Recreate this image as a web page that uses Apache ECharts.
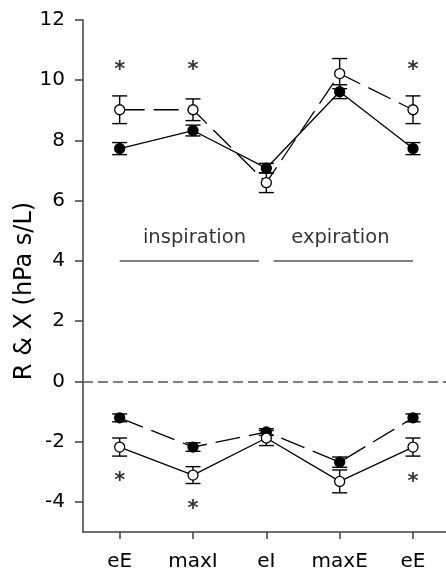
<!DOCTYPE html>
<html>
<head>
<meta charset="utf-8">
<script src="https://cdn.jsdelivr.net/npm/echarts@6/dist/echarts.min.js"></script>
<style>
html,body{margin:0;padding:0;background:#fff;}
#chart{width:446px;height:571px;}
</style>
</head>
<body>
<div id="chart"></div>
<script>
const categories = ['eE', 'maxI', 'eI', 'maxE', 'eE'];
const xPos = [0, 1, 2, 3, 4];
const yTicks = [-4, -2, 0, 2, 4, 6, 8, 10, 12];

// Resistance (upper group)
const R_open = [9.02, 9.02, 6.60, 10.22, 9.02];
const R_open_err = [0.46, 0.36, 0.33, 0.50, 0.46];
const R_filled = [7.73, 8.33, 7.08, 9.62, 7.73];
const R_filled_err = [0.20, 0.18, 0.16, 0.23, 0.20];

// Reactance (lower group)
const X_filled = [-1.21, -2.18, -1.68, -2.68, -1.21];
const X_filled_err = [0.13, 0.14, 0.11, 0.17, 0.13];
const X_open = [-2.18, -3.11, -1.88, -3.32, -2.18];
const X_open_err = [0.30, 0.28, 0.25, 0.38, 0.30];

// significance asterisks
const starX = [0, 1, 4, 0, 1, 4];
const starY = [10.47, 10.47, 10.47, -3.20, -4.11, -3.23];

// phase annotations
const phaseNames = ['inspiration', 'expiration'];
const phaseLabelX = [1.02, 3.01];
const phaseLabelY = 4.75;
const phaseLineStart = [0, 2.1];
const phaseLineEnd = [1.9, 4.0];
const phaseLineY = 4;
const zeroLine = 0;

const FONT = 'DejaVu Sans';
const pts = (ys) => xPos.map((x, i) => [x, ys[i]]);
const errPts = (ys, es) => xPos.map((x, i) => [x, ys[i], es[i]]);

function errorBars(ys, es) {
  return {
    type: 'custom',
    data: errPts(ys, es),
    encode: { x: 0, y: 1 },
    silent: true,
    renderItem: function (params, api) {
      const x = api.value(0), y = api.value(1), e = api.value(2);
      const top = api.coord([x, y + e]);
      const bot = api.coord([x, y - e]);
      const hw = 7.5;
      const st = { stroke: '#000', lineWidth: 1.4 };
      return {
        type: 'group',
        children: [
          { type: 'line', shape: { x1: top[0], y1: top[1], x2: bot[0], y2: bot[1] }, style: st },
          { type: 'line', shape: { x1: top[0] - hw, y1: top[1], x2: top[0] + hw, y2: top[1] }, style: st },
          { type: 'line', shape: { x1: bot[0] - hw, y1: bot[1], x2: bot[0] + hw, y2: bot[1] }, style: st }
        ]
      };
    }
  };
}

function lineSeries(ys, filled, dashed) {
  return {
    type: 'line',
    data: pts(ys),
    symbol: 'circle',
    symbolSize: 10,
    showAllSymbol: true,
    silent: true,
    lineStyle: { color: '#000', width: 1.3, type: dashed ? [25, 9] : 'solid' },
    itemStyle: { color: filled ? '#000' : '#fff', borderColor: '#000', borderWidth: 1.3 }
  };
}

const series = [
  errorBars(R_open, R_open_err),
  errorBars(R_filled, R_filled_err),
  errorBars(X_filled, X_filled_err),
  errorBars(X_open, X_open_err),
  Object.assign(lineSeries(R_open, false, true), {
    markLine: {
      silent: true,
      symbol: ['none', 'none'],
      label: { show: false },
      lineStyle: { color: '#555', width: 1.6, type: [10, 5] },
      data: [{ yAxis: zeroLine }]
    }
  }),
  lineSeries(R_filled, true, false),
  lineSeries(X_filled, true, true),
  lineSeries(X_open, false, false),
  {
    type: 'scatter',
    symbol: 'circle',
    symbolSize: 0,
    silent: true,
    data: starX.map((x, i) => [x, starY[i]]),
    label: {
      show: true, position: 'inside', formatter: '*',
      color: '#000', fontSize: 21, fontWeight: 'bold', fontFamily: FONT, offset: [0, 4]
    }
  },
  {
    type: 'scatter',
    symbol: 'circle',
    symbolSize: 0,
    silent: true,
    data: phaseLabelX.map((x, i) => ({ value: [x, phaseLabelY], name: phaseNames[i] })),
    label: {
      show: true, position: 'inside', formatter: (p) => p.name,
      color: '#000', fontSize: 19.5, fontFamily: FONT
    }
  }
];
phaseLineStart.forEach((s, i) => {
  series.push({
    type: 'line',
    symbol: 'none',
    silent: true,
    data: [[s, phaseLineY], [phaseLineEnd[i], phaseLineY]],
    lineStyle: { color: '#555', width: 1.6 }
  });
});

const chart = echarts.init(document.getElementById('chart'), null, { renderer: 'canvas' });
chart.setOption({
  animation: false,
  backgroundColor: '#fff',
  grid: { left: 83, top: 20, right: 0, bottom: 39, containLabel: false, outerBoundsMode: 'none' },
  xAxis: {
    type: 'value',
    min: -0.5,
    max: 4.45,
    splitLine: { show: false },
    axisLine: { show: true, onZero: false, lineStyle: { color: '#404040', width: 1.5 } },
    axisTick: { show: true, customValues: xPos, length: 7, lineStyle: { color: '#404040', width: 1.5 } },
    axisLabel: {
      customValues: xPos, formatter: (v) => categories[Math.round(v)],
      color: '#000', fontSize: 20, fontFamily: FONT, margin: 20
    }
  },
  yAxis: {
    type: 'value',
    min: -5,
    max: 12,
    name: 'R & X (hPa s/L)',
    nameLocation: 'middle',
    nameRotate: 90,
    nameGap: 46,
    nameMoveOverlap: false,
    nameTextStyle: { color: '#000', fontSize: 24, fontFamily: FONT, padding: [0, 30, 0, 0] },
    splitLine: { show: false },
    axisLine: { show: true, onZero: false, lineStyle: { color: '#404040', width: 1.5 } },
    axisTick: { show: true, customValues: yTicks, length: 8, lineStyle: { color: '#404040', width: 1.5 } },
    axisLabel: { customValues: yTicks, color: '#000', fontSize: 20, fontFamily: FONT, margin: 18 }
  },
  series: series
});
</script>
</body>
</html>
